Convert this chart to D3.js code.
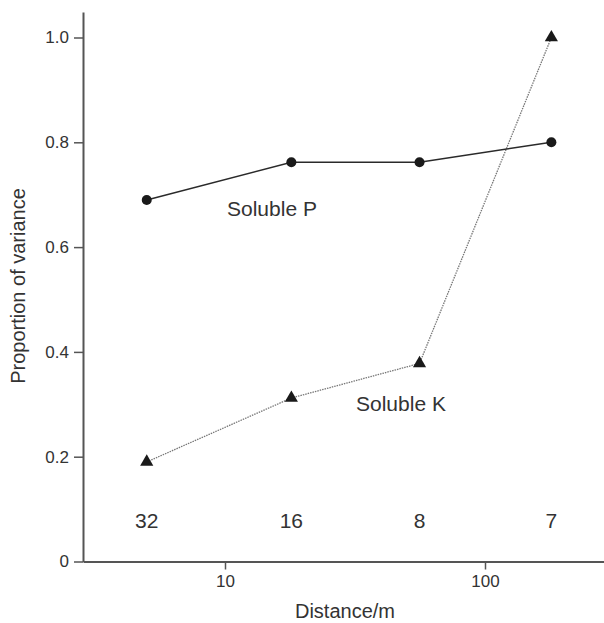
<!DOCTYPE html>
<html>
<head>
<meta charset="utf-8">
<script src="https://cdn.jsdelivr.net/npm/d3@7"></script>
<style>
  body { margin: 0; background: #fff; }
  svg { display: block; font-family: "Liberation Sans", Arial, sans-serif; }
</style>
</head>
<body>
<script>
var width = 604,
    height = 623;

// data
var distance = [5, 18, 56, 180];
var solubleP = [0.69, 0.762, 0.762, 0.80];
var solubleK = [0.19, 0.312, 0.378, 1.0];
var pairCounts = ["32", "16", "8", "7"];
var xTicks = [10, 100];
var yTicks = [0, 0.2, 0.4, 0.6, 0.8, 1.0];

var left = 83, right = 604, bottom = 561.5;

// log scale: 10 -> 225px, 100 -> 485px
var decade = 260;
var x = d3.scaleLog()
    .domain([Math.pow(10, 1 - (225 - left) / decade), Math.pow(10, 2 + (right - 485) / decade)])
    .range([left, right]);

var y = d3.scaleLinear()
    .domain([0, 1])
    .range([bottom, 37.5]);

var svg = d3.select("body").append("svg")
    .attr("width", width)
    .attr("height", height);

var axisColor = "#555",
    textColor = "#333";

// x axis
var gx = svg.append("g")
    .attr("transform", "translate(0," + bottom + ")")
    .call(d3.axisBottom(x).tickValues(xTicks).tickFormat(d3.format("d")).tickSize(8).tickSizeOuter(0).tickPadding(5));

// y axis (line runs a bit above 1.0)
var yAxisScale = y.copy().domain([0, y.invert(12)]).range([bottom, 12]);
var gy = svg.append("g")
    .attr("transform", "translate(" + left + ",0)")
    .call(d3.axisLeft(yAxisScale).tickValues(yTicks)
      .tickFormat(function(d) { return d === 0 ? "0" : d3.format(".1f")(d); })
      .tickSize(9).tickSizeOuter(0).tickPadding(5));

[gx, gy].forEach(function(g) {
  g.select(".domain").attr("stroke", axisColor).attr("stroke-width", 2);
  g.selectAll(".tick line").attr("stroke", axisColor).attr("stroke-width", 1.5);
  g.selectAll(".tick text")
    .attr("fill", textColor)
    .style("font-size", "17px")
    .style("font-family", "'Liberation Sans', Arial, sans-serif");
});

// axis titles
svg.append("text")
    .attr("x", 345)
    .attr("y", 618)
    .attr("text-anchor", "middle")
    .attr("fill", textColor)
    .style("font-size", "20px")
    .text("Distance/m");

svg.append("text")
    .attr("transform", "translate(25,286) rotate(-90)")
    .attr("text-anchor", "middle")
    .attr("fill", textColor)
    .style("font-size", "20px")
    .text("Proportion of variance");

var line = d3.line()
    .x(function(d) { return x(d[0]); })
    .y(function(d) { return y(d[1]); });

var pData = distance.map(function(d, i) { return [d, solubleP[i]]; });
var kData = distance.map(function(d, i) { return [d, solubleK[i]]; });

// Soluble K: dotted grey line with triangles
svg.append("path")
    .datum(kData)
    .attr("d", line)
    .attr("fill", "none")
    .attr("stroke", "#777")
    .attr("stroke-width", 1.3)
    .attr("stroke-dasharray", "1.5,1");

svg.selectAll(".tri")
    .data(kData)
  .enter().append("path")
    .attr("class", "tri")
    .attr("transform", function(d) { return "translate(" + x(d[0]) + "," + y(d[1]) + ")"; })
    .attr("d", d3.symbol().type(d3.symbolTriangle).size(75))
    .attr("fill", "#1a1a1a");

// Soluble P: solid line with circles
svg.append("path")
    .datum(pData)
    .attr("d", line)
    .attr("fill", "none")
    .attr("stroke", "#2a2a2a")
    .attr("stroke-width", 1.5);

svg.selectAll(".dot")
    .data(pData)
  .enter().append("circle")
    .attr("class", "dot")
    .attr("cx", function(d) { return x(d[0]); })
    .attr("cy", function(d) { return y(d[1]); })
    .attr("r", 5)
    .attr("fill", "#1a1a1a");

// series labels
svg.append("text")
    .attr("x", 227)
    .attr("y", 216)
    .attr("fill", textColor)
    .style("font-size", "21px")
    .text("Soluble P");

svg.append("text")
    .attr("x", 356)
    .attr("y", 411)
    .attr("fill", textColor)
    .style("font-size", "21px")
    .text("Soluble K");

// number of pairs at each distance
svg.selectAll(".count")
    .data(pairCounts)
  .enter().append("text")
    .attr("class", "count")
    .attr("x", function(d, i) { return x(distance[i]); })
    .attr("y", 528)
    .attr("text-anchor", "middle")
    .attr("fill", textColor)
    .style("font-size", "21px")
    .text(function(d) { return d; });
</script>
</body>
</html>
